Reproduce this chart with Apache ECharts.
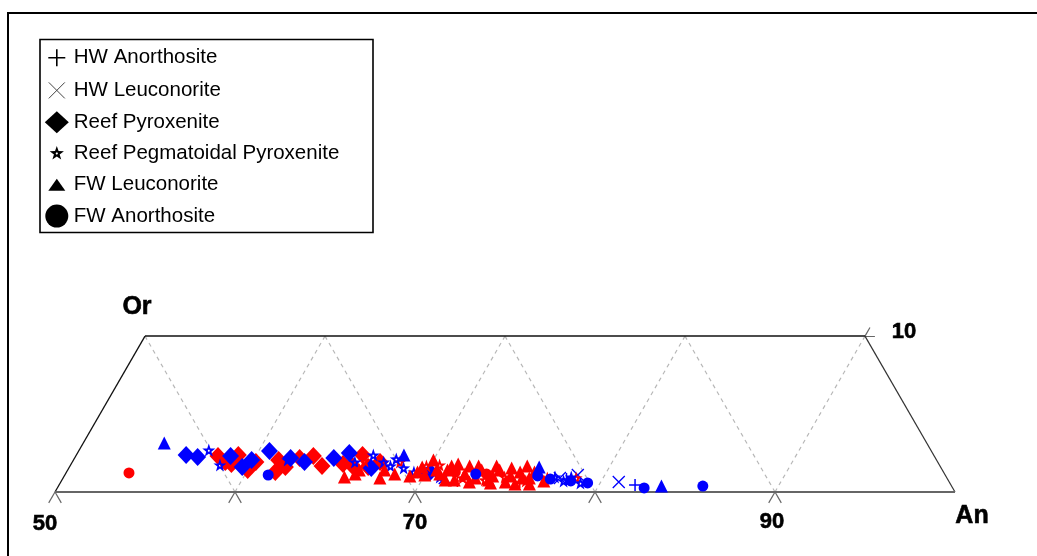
<!DOCTYPE html>
<html>
<head>
<meta charset="utf-8">
<script src="https://cdn.jsdelivr.net/npm/echarts@6/dist/echarts.min.js"></script>
<style>
  html, body { margin: 0; padding: 0; background: #fff; }
  #chart { width: 1037px; height: 556px; }
</style>
</head>
<body>
<div id="chart"></div>
<script>
// Plagioclase / alkali feldspar compositions, each point = [An mol%, Or mol%]; Ab is the remainder.
// Only the An-rich strip of the Or-Ab-An triangle (An 50-100, Or 0-10) is drawn.

const seriesNames = ['HW Anorthosite', 'HW Leuconorite', 'Reef Pyroxenite',
  'Reef Pegmatoidal Pyroxenite', 'FW Leuconorite', 'FW Anorthosite'];

// Blue and red sample groups per rock type
const hwAnorthositeBlue = [[82.0, 0.45], [78.0, 0.83]];
const hwAnorthositeRed = [[72.0, 0.71], [75.5, 0.64]];

const hwLeuconoriteBlue = [[81.0, 0.64], [78.5, 1.09], [77.6, 0.90], [71.2, 0.90]];
const hwLeuconoriteRed = [];

const reefPyroxeniteRed = [[57.9, 2.31], [58.5, 1.92], [59.0, 2.37], [60.2, 1.92], [61.4, 2.05],
  [62.0, 1.60], [63.2, 2.31], [64.0, 1.67], [65.1, 1.80], [65.9, 2.37], [66.6, 1.60], [67.1, 1.92],
  [60.0, 1.41], [58.9, 1.80], [62.5, 2.18], [65.7, 1.67], [61.6, 1.28]];
const reefPyroxeniteBlue = [[56.1, 2.37], [56.8, 2.25], [58.6, 2.31], [59.6, 1.60], [59.9, 2.05],
  [60.6, 2.63], [62.0, 2.18], [62.9, 1.92], [64.4, 2.18], [65.1, 2.50], [66.8, 1.54], [70.2, 1.28]];

const reefPegmatoidalRed = [[68.2, 1.92], [69.8, 1.67], [70.5, 1.73], [74.5, 0.96], [75.8, 0.71],
  [76.9, 0.90], [78.5, 0.90], [66.2, 1.99], [72.2, 0.90], [73.5, 0.77]];
const reefPegmatoidalBlue = [[57.2, 2.69], [58.3, 1.73], [61.9, 2.05], [65.7, 1.92], [66.5, 2.37],
  [67.3, 1.92], [67.8, 1.67], [68.6, 1.54], [69.3, 1.28], [70.9, 0.96], [77.3, 0.96], [77.9, 0.71],
  [78.2, 0.96], [78.9, 0.58], [67.9, 2.12], [70.0, 1.15]];

const fwLeuconoriteRed = [[65.6, 0.96], [67.6, 1.41], [69.2, 1.03], [70.0, 2.05], [69.6, 1.60],
  [71.1, 1.41], [71.5, 1.80], [72.2, 1.15], [72.2, 1.67], [73.0, 1.41], [73.8, 1.03], [74.0, 1.41],
  [74.8, 1.03], [75.2, 1.28], [75.9, 0.90], [71.8, 0.77], [68.3, 1.15], [70.8, 1.15], [74.7, 0.64],
  [72.9, 0.90], [76.8, 0.71], [66.2, 1.41], [73.9, 0.58], [75.3, 0.51], [72.7, 0.64], [76.1, 0.51],
  [70.0, 1.09], [70.5, 1.41], [71.2, 1.67], [72.7, 1.67], [73.7, 0.77], [73.7, 1.67], [74.6, 1.54],
  [75.5, 0.90], [76.0, 1.28], [75.4, 1.67], [71.3, 0.77], [69.5, 1.28], [67.6, 0.90], [66.1, 1.15]];
const fwLeuconoriteBlue = [[54.5, 3.14], [68.2, 2.37], [76.1, 1.60], [83.5, 0.38]];

const fwAnorthositeRed = [[53.5, 1.22], [73.4, 1.15], [71.6, 1.28]];
const fwAnorthositeBlue = [[61.3, 1.09], [72.8, 1.15], [76.3, 1.03], [77.1, 0.83], [78.3, 0.71],
  [79.3, 0.58], [82.6, 0.26], [85.8, 0.38]];

// Axis description
const anMin = 50, anMax = 100, orMax = 10;
const anTicks = [50, 60, 70, 80, 90];
const anTickLabels = ['50', '70', '90'];
const orTickLabel = '10';
const gridValues = [60, 70, 80, 90];

const RED = '#ff0000';
const BLUE = '#0000ff';
const SQ = Math.sqrt(3) / 2;
const FONT = 'Liberation Sans, Arial, sans-serif';

// Ternary (An, Or) -> cartesian (x along the An edge, y = height)
function tern(an, or) { return [an + or / 2, or * SQ]; }

function points(red, blue) {
  const out = [];
  red.forEach(p => out.push({ value: tern(p[0], p[1]), itemStyle: { color: RED, borderColor: RED } }));
  blue.forEach(p => out.push({ value: tern(p[0], p[1]), itemStyle: { color: BLUE, borderColor: BLUE } }));
  return out;
}

// Five-pointed star with a small pentagonal hole in the middle
const STAR_PATH = 'M0,-10L2.35,-3.24L9.51,-3.09L3.8,1.24L5.88,8.09L0,4L-5.88,8.09L-3.8,1.24L-9.51,-3.09L-2.35,-3.24Z' +
  'M0.94,-1.29L-0.94,-1.29L-1.52,0.49L0,1.6L1.52,0.49Z';
const STAR = 'path://' + STAR_PATH;
const PLUS = 'path://M-6,0L6,0M0,-6L0,6';
const CROSS = 'path://M-6,-6L6,6M-6,6L6,-6';

// Frame of the truncated triangle
const frameSegments = [
  { coords: [tern(anMin, 0), tern(anMin, orMax)], lineStyle: { color: '#111', width: 1.3 } },
  { coords: [tern(anMin, orMax), tern(anMax - orMax, orMax)], lineStyle: { color: '#111', width: 1.5 } },
  { coords: [tern(anMax - orMax, orMax), tern(anMax, 0)], lineStyle: { color: '#333', width: 1.2 } },
  { coords: [tern(anMin, 0), tern(anMax, 0)], lineStyle: { color: '#666', width: 2 } }
];

// Dashed An = const and Ab = const guide lines
const guideSegments = [];
gridValues.forEach(g => {
  guideSegments.push({ coords: [tern(g, 0), tern(g, orMax)] });
  guideSegments.push({ coords: [tern(g, 0), tern(g - orMax, orMax)] });
});

// Tick marks below the An edge and at the Or = 10 corner
const tickLen = 0.7, topTickLen = 0.55;
const tickSegments = [];
anTicks.forEach(t => {
  tickSegments.push({ coords: [tern(t, 0), tern(t, -tickLen)] });
  tickSegments.push({ coords: [tern(t, 0), tern(t + tickLen, -tickLen)] });
});
tickSegments.push({ coords: [tern(anMax - orMax, orMax), tern(anMax - orMax + topTickLen, orMax)] });
tickSegments.push({ coords: [tern(anMax - orMax, orMax), tern(anMax - orMax, orMax + topTickLen)] });

// Text labels anchored to diagram points
function textLabel(offset, size) {
  return { show: true, position: 'inside', offset: offset, fontSize: size, color: '#000',
    fontWeight: 'bold', fontFamily: FONT, textBorderColor: '#000', textBorderWidth: 0.6, opacity: 1 };
}
const textItems = [
  { value: tern(50, 0), name: anTickLabels[0], label: textLabel([-10, 32], 22) },
  { value: tern(70, 0), name: anTickLabels[1], label: textLabel([0, 31], 22) },
  { value: tern(90, 0), name: anTickLabels[2], label: textLabel([-3, 30], 22) },
  { value: tern(anMax - orMax, orMax), name: orTickLabel, label: textLabel([39, -4], 22) },
  { value: tern(anMin, orMax), name: 'Or', label: textLabel([-8, -29], 25) },
  { value: tern(anMax, 0), name: 'An', label: textLabel([17, 24], 25) }
];

const symbols = [PLUS, CROSS, 'diamond', STAR, 'triangle', 'circle'];
const sizes = [12, 12, [17, 18], 13, 13, 11];
const borders = [1.5, 1.3, 0, 0, 0, 0];
const datasets = [
  points(hwAnorthositeRed, hwAnorthositeBlue),
  points(hwLeuconoriteRed, hwLeuconoriteBlue),
  points(reefPyroxeniteRed, reefPyroxeniteBlue),
  points(reefPegmatoidalRed, reefPegmatoidalBlue),
  points(fwLeuconoriteRed, fwLeuconoriteBlue),
  points(fwAnorthositeRed, fwAnorthositeBlue)
];

// Legend icons (padded boxes keep the relative icon sizes)
const legendIcons = [
  'path://M-12,-12M12,12M-8.5,0L8.5,0M0,-8.5L0,8.5',
  'path://M-12,-12M12,12M-8,-8L8,8M-8,8L8,-8',
  'path://M-12,-12M12,12M0,-11L12,0L0,11L-12,0Z',
  'path://M-16,-16M16,16' + STAR_PATH,
  'path://M-12,-12M12,12M0,-6L8.5,6L-8.5,6Z',
  'path://M-12,-12M12,12M0,-11.5A11.5,11.5,0,1,1,0,11.5A11.5,11.5,0,1,1,0,-11.5Z'
];
const legendStyles = [
  { color: '#000', borderColor: '#000', borderWidth: 1.6 },
  { color: '#000', borderColor: '#444', borderWidth: 1 },
  { color: '#000', borderWidth: 0 },
  { color: '#000', borderWidth: 0 },
  { color: '#000', borderWidth: 0 },
  { color: '#000', borderWidth: 0 }
];

const scatterSeries = seriesNames.map((name, i) => ({
  name: name,
  type: 'scatter',
  symbol: symbols[i],
  symbolSize: sizes[i],
  itemStyle: { color: '#000', borderColor: '#000', borderWidth: borders[i], opacity: 1 },
  emphasis: { disabled: true },
  data: datasets[i],
  z: 5
}));

const chart = echarts.init(document.getElementById('chart'), null, { renderer: 'canvas' });
chart.setOption({
  animation: false,
  backgroundColor: '#fff',
  textStyle: { fontFamily: FONT },
  grid: { left: 19, top: 312, width: 972, height: 234 },
  xAxis: { type: 'value', min: 48, max: 102, show: false },
  yAxis: { type: 'value', min: -3, max: 10, show: false },
  legend: {
    orient: 'vertical',
    left: 44,
    top: 45,
    itemWidth: 24,
    itemHeight: 24,
    itemGap: 7.3,
    padding: 0,
    selectedMode: false,
    textStyle: { fontSize: 20.5, color: '#000', fontFamily: FONT },
    data: seriesNames.map((n, i) => ({ name: n, icon: legendIcons[i], itemStyle: legendStyles[i] }))
  },
  graphic: [
    { type: 'rect', shape: { x: 8, y: 13, width: 1100, height: 600 },
      style: { fill: 'none', stroke: '#000', lineWidth: 2 }, silent: true },
    { type: 'rect', shape: { x: 40, y: 39.5, width: 333, height: 193 },
      style: { fill: 'none', stroke: '#000', lineWidth: 1.6 }, silent: true }
  ],
  series: [
    { type: 'lines', coordinateSystem: 'cartesian2d', silent: true, z: 1,
      lineStyle: { color: '#b8b8b8', width: 1.2, type: [4, 4], opacity: 1 },
      data: guideSegments },
    { type: 'lines', coordinateSystem: 'cartesian2d', silent: true, z: 2,
      lineStyle: { color: '#666', width: 1.2, opacity: 1 },
      data: tickSegments },
    { type: 'lines', coordinateSystem: 'cartesian2d', silent: true, z: 2,
      lineStyle: { opacity: 1 },
      data: frameSegments },
    ...scatterSeries,
    { type: 'scatter', silent: true, symbol: 'circle', symbolSize: 1, z: 6,
      itemStyle: { opacity: 0 },
      label: { show: true, formatter: '{b}' },
      data: textItems }
  ]
});
</script>
</body>
</html>
